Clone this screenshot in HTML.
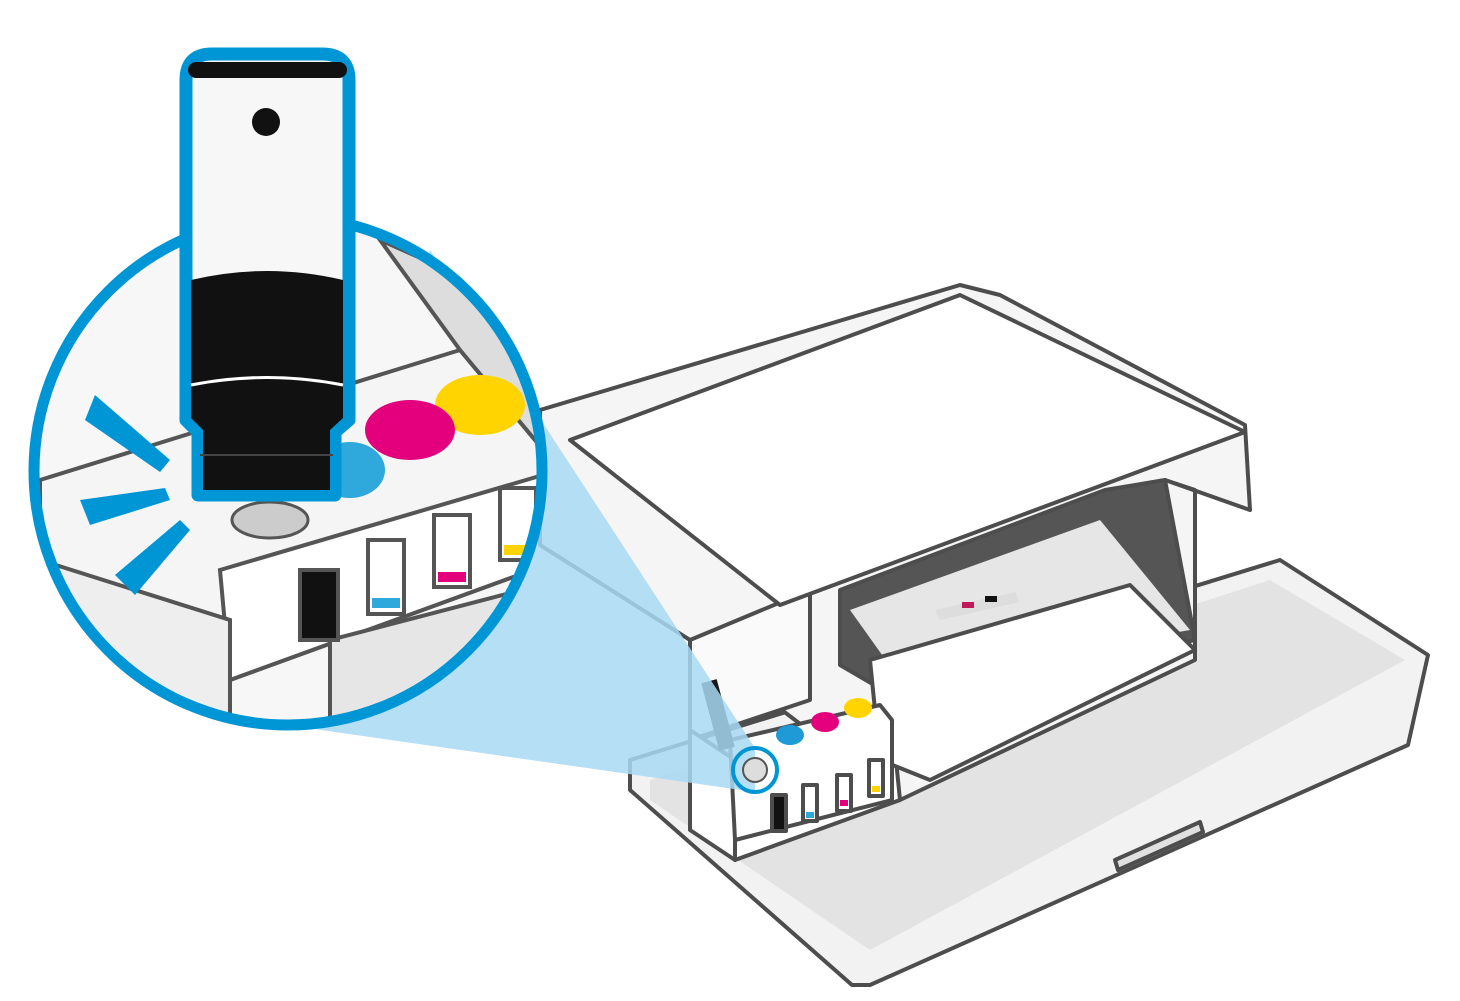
<!DOCTYPE html>
<html><head><meta charset="utf-8"><style>html,body{margin:0;padding:0;background:#fff}svg{display:block}</style></head>
<body>
<svg width="1460" height="1001" viewBox="0 0 1460 1001" xmlns="http://www.w3.org/2000/svg">
<g stroke="#4d4d4d" stroke-width="4" stroke-linejoin="round" fill="#fff">
  <polygon points="630,760 1280,560 1428,655 1408,745 870,985 852,985 630,790" fill="#f2f2f2"/>
  <polygon points="650,780 1270,580 1405,660 870,950 650,800" fill="#e3e3e3" stroke="none"/>
  <polygon points="1115,860 1200,822 1203,832 1118,870" fill="#e0e0e0"/>
  <polygon points="540,410 960,285 1000,295 1245,425 1250,510 1165,480 1195,490 1195,660 900,800 690,640 540,545" fill="#f5f5f5"/>
  <polygon points="690,640 810,590 810,700 690,740" fill="#fafafa"/>
  <polygon points="690,640 690,830 735,860 735,760 690,730" fill="#fff"/>
  <polygon points="735,760 890,700 900,800 735,860" fill="#fff"/>
  <polygon points="840,590 1105,490 1165,480 1195,640 900,700 840,665" fill="#555"/>
  <polygon points="850,610 1100,520 1190,630 900,680" fill="#e6e6e6" stroke="none"/>
  <polygon points="870,660 1130,585 1195,650 930,780 880,760" fill="#fff"/>
  <polygon points="935,610 1015,592 1020,602 940,620" fill="#ddd" stroke="none"/>
  <rect x="962" y="602" width="12" height="6" fill="#c2185b" stroke="none"/>
  <rect x="985" y="596" width="12" height="6" fill="#111" stroke="none"/>
  <polygon points="570,440 960,295 1245,432 780,605" fill="#fff"/>
  <polygon points="730,740 880,705 892,720 892,800 735,840" fill="#fff"/>
  <rect x="772" y="795" width="14" height="36" fill="#111"/>
  <rect x="803" y="785" width="14" height="36" fill="#fff"/>
  <rect x="837" y="775" width="14" height="36" fill="#fff"/>
  <rect x="869" y="760" width="14" height="36" fill="#fff"/>
</g>
<g stroke="none">
  <rect x="806" y="812" width="8" height="6" fill="#2fa8dc"/>
  <rect x="840" y="800" width="8" height="6" fill="#e4007c"/>
  <rect x="872" y="786" width="8" height="6" fill="#ffd400"/>
  <ellipse cx="790" cy="735" rx="14" ry="10" fill="#1e9bd7"/>
  <ellipse cx="825" cy="722" rx="14" ry="10" fill="#e4007c"/>
  <ellipse cx="858" cy="708" rx="14" ry="10" fill="#ffd400"/>
  <rect x="710" y="680" width="16" height="70" fill="#1a1a1a" transform="rotate(-15 718 715)"/>
</g>
<polygon points="430,250 755,748 755,792 300,727" fill="#a8d9f2" opacity="0.85"/>
<circle cx="755" cy="770" r="22" fill="none" stroke="#0096d6" stroke-width="4"/>
<circle cx="755" cy="770" r="12" fill="#ddd" stroke="#555" stroke-width="2"/>
<clipPath id="c"><circle cx="288" cy="471" r="254"/></clipPath>
<circle cx="288" cy="471" r="254" fill="#f7f7f7"/>
<g clip-path="url(#c)" stroke="#555" stroke-width="4" fill="#fff">
  <polygon points="40,480 460,350 560,470 560,560 230,680 40,560" fill="#f5f5f5"/>
  <polygon points="220,570 560,470 560,560 230,680" fill="#fff"/>
  <polygon points="40,560 230,620 230,760 40,760" fill="#eee"/>
  <polygon points="330,640 560,580 560,760 330,760" fill="#e6e6e6"/>
  <polygon points="380,240 470,280 560,380 560,470 460,350" fill="#ddd"/>
  <rect x="300" y="570" width="38" height="70" fill="#111"/>
  <rect x="368" y="540" width="36" height="74" fill="#fff"/>
  <rect x="434" y="515" width="36" height="72" fill="#fff"/>
  <rect x="500" y="488" width="36" height="72" fill="#fff"/>
</g>
<g clip-path="url(#c)" stroke="none">
  <rect x="372" y="598" width="28" height="10" fill="#2fa8dc"/>
  <rect x="438" y="572" width="28" height="10" fill="#e4007c"/>
  <rect x="504" y="545" width="28" height="10" fill="#ffd400"/>
  <ellipse cx="480" cy="405" rx="45" ry="30" fill="#ffd400"/>
  <ellipse cx="410" cy="430" rx="45" ry="30" fill="#e4007c"/>
  <ellipse cx="350" cy="470" rx="35" ry="28" fill="#2fa8dc"/>
  <ellipse cx="270" cy="520" rx="38" ry="18" fill="#ccc" stroke="#555" stroke-width="3"/>
</g>
<circle cx="288" cy="471" r="254" fill="none" stroke="#0096d6" stroke-width="11"/>
<g fill="#0096d6">
  <polygon points="85,420 95,395 170,460 160,472"/>
  <polygon points="80,500 90,525 170,500 165,488"/>
  <polygon points="115,575 135,595 190,530 180,520"/>
</g>
<!-- bottle -->
<path d="M186,80 Q186,54 212,54 L322,54 Q349,54 349,80 L349,420 L335,432 L335,495 L198,495 L198,432 L186,420 Z" fill="#f7f7f7" stroke="#0096d6" stroke-width="13" stroke-linejoin="round"/>
<rect x="188" y="62" width="159" height="16" rx="8" fill="#111"/>
<circle cx="266" cy="122" r="14" fill="#111"/>
<path d="M191,280 Q267,262 343,280 L343,418 L330,430 L330,490 L203,490 L203,430 L191,418 Z" fill="#111"/>
<path d="M191,385 Q267,370 343,385" stroke="#fff" stroke-width="3" fill="none"/>
<path d="M200,455 L333,455" stroke="#444" stroke-width="2"/>
</svg>
</body></html>
